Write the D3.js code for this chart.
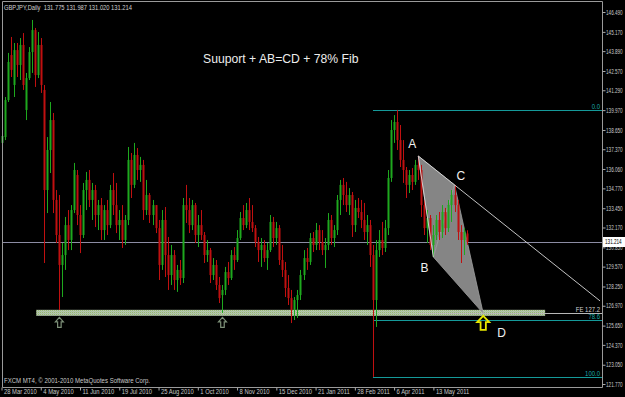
<!DOCTYPE html>
<html><head><meta charset="utf-8">
<script src="https://cdn.jsdelivr.net/npm/d3@7"></script>
<style>html,body{margin:0;padding:0;background:#000;overflow:hidden}</style>
</head><body><svg id="c" width="625" height="397"></svg>
<script>
// ---------- data ----------
const headerLabel = "GBPJPY,Daily";
const title = "Suuport + AB=CD + 78% Fib";
const footer = "FXCM MT4, \u00a9 2001-2010 MetaQuotes Software Corp.";
// [open, high, low, close]
const ohlc = [
[137.79,138.45,137.59,138.25],[138.18,140.84,137.98,140.64],[140.64,143.77,140.51,143.17],[143.63,144.83,142.17,142.64],
[141.64,144.43,140.84,143.96],[143.96,144.43,142.17,142.97],[142.97,144.76,141.97,144.30],[144.30,145.09,141.31,141.64],
[139.98,142.44,139.31,142.10],[142.10,144.16,141.97,143.83],[143.83,145.96,142.44,145.29],[145.29,145.43,141.51,142.30],
[142.30,145.16,142.10,144.30],[144.30,144.76,141.11,141.64],[141.31,141.64,129.81,134.66],[134.66,138.18,133.13,137.32],
[137.32,140.51,135.79,139.31],[139.31,139.78,133.13,134.00],[134.00,134.66,131.14,131.67],[131.67,134.33,126.69,129.68],
[129.68,131.14,127.55,130.34],[130.34,132.87,129.35,132.33],[132.33,133.33,130.67,131.34],[131.34,133.66,130.67,133.33],
[133.33,136.46,133.13,135.99],[135.66,135.99,132.33,133.00],[133.00,133.66,130.47,131.67],[131.67,135.13,131.47,134.66],
[134.66,135.86,133.33,135.33],[135.33,135.99,133.53,134.00],[134.00,135.13,132.67,134.66],[134.66,135.00,132.20,133.00],
[133.00,134.00,132.00,133.66],[133.66,134.13,131.34,132.00],[132.00,133.66,131.34,133.33],[133.33,134.00,131.67,132.33],
[132.33,135.00,132.13,134.66],[134.66,135.79,133.00,133.66],[133.66,135.13,131.80,132.33],[132.33,133.33,131.34,132.67],
[132.67,133.66,130.81,131.34],[131.34,133.00,131.01,132.67],[132.67,137.52,132.33,136.66],[136.66,137.12,134.13,135.00],
[135.00,137.79,134.79,136.99],[136.99,137.45,135.33,135.99],[135.99,136.86,135.20,136.33],[136.33,136.66,132.67,133.33],
[133.33,135.33,133.00,134.33],[134.33,134.46,132.47,133.00],[133.00,134.00,132.33,133.66],[133.66,133.66,131.80,132.13],
[132.13,132.67,128.68,129.68],[129.68,133.33,129.35,132.67],[132.67,133.53,128.88,130.34],[130.34,131.54,128.02,129.01],
[129.01,131.01,128.35,130.34],[130.34,130.67,128.02,128.68],[128.68,129.68,127.89,129.35],[129.35,130.01,128.35,128.81],
[128.81,134.13,128.48,133.66],[133.66,135.00,132.47,133.33],[133.33,134.13,131.80,132.33],[132.33,134.00,132.00,133.66],
[133.66,133.80,131.14,131.67],[131.67,133.00,130.87,132.33],[132.33,133.33,131.34,131.67],[131.67,131.87,129.81,130.34],
[130.34,131.34,129.88,130.67],[130.67,130.81,128.48,129.01],[129.01,130.14,128.68,129.68],[129.68,130.01,128.02,128.35],
[128.35,128.88,127.15,127.48],[127.68,128.35,126.49,128.02],[128.02,129.55,127.68,129.21],[129.21,129.88,128.35,128.81],
[128.81,130.67,128.68,130.34],[130.34,130.87,129.35,130.01],[130.01,132.00,129.88,131.47],[131.47,133.20,131.34,132.80],
[132.80,133.66,132.00,132.33],[132.33,133.80,132.13,133.33],[133.33,134.13,132.00,132.54],[132.54,133.66,131.87,132.13],
[132.13,132.33,130.87,131.21],[131.21,131.54,129.88,130.67],[130.67,131.47,129.55,131.01],[131.01,131.34,129.88,130.14],
[130.14,131.14,129.35,130.67],[130.67,133.00,130.54,132.54],[132.54,132.87,130.87,131.47],[131.47,132.54,131.01,132.13],
[132.13,132.33,129.68,130.01],[130.01,131.01,128.88,129.35],[129.35,129.88,127.55,128.15],[128.15,129.01,127.02,127.48],
[127.48,128.02,125.82,126.69],[126.69,127.55,126.02,127.35],[127.35,128.02,126.16,127.68],[127.68,129.35,127.35,129.01],
[129.01,130.67,128.68,130.14],[130.14,130.81,129.35,129.88],[129.88,131.80,129.68,131.47],[131.47,131.87,130.54,131.01],
[131.01,132.47,130.67,132.00],[132.00,132.33,130.67,131.21],[131.21,132.00,130.34,130.67],[130.67,131.47,129.48,131.01],
[131.01,133.13,130.67,132.67],[132.67,133.00,131.01,131.47],[131.47,132.33,130.87,132.00],[132.00,134.33,131.67,134.00],
[134.00,135.33,133.00,135.00],[135.00,135.46,133.66,134.33],[134.33,135.20,133.20,133.66],[133.66,134.79,133.00,134.33],
[134.33,134.53,131.54,132.33],[132.33,134.00,131.87,133.47],[133.47,134.13,132.80,133.20],[133.20,134.00,132.13,132.67],
[132.67,133.80,131.34,131.87],[131.87,133.00,131.01,132.33],[132.33,132.67,129.55,130.34],[130.34,131.01,122.24,127.35],
[127.35,131.34,125.56,130.67],[130.67,132.00,130.21,131.34],[131.34,132.54,130.34,130.81],[130.81,132.67,130.54,132.13],
[132.13,135.99,131.67,135.46],[135.46,139.31,135.20,138.65],[138.65,139.64,137.79,139.18],[139.18,139.98,137.32,137.98],
[137.98,138.98,136.19,136.66],[136.66,137.98,135.13,135.99],[135.99,136.19,134.13,135.00],[135.00,135.99,134.46,135.66],
[135.66,136.12,134.66,135.20],[135.20,136.66,135.00,136.33],[136.33,136.92,135.33,135.99],[135.99,136.33,132.87,133.66],
[133.66,134.00,131.67,132.13],[132.13,133.33,131.14,132.80],[132.80,133.00,130.67,131.01],[131.01,132.33,130.21,131.67],
[131.67,133.00,131.34,132.67],[132.67,133.20,131.34,131.87],[131.87,133.66,131.47,133.20],[133.20,133.47,131.67,132.13],
[132.13,134.00,131.87,133.66],[133.66,134.66,132.54,134.33],[134.33,135.00,133.20,133.66],[133.66,134.00,131.34,131.87],
[131.87,132.33,129.81,131.34],[131.34,132.13,130.34,131.87],[131.775,131.987,131.020,131.214]
];
const dateLabels = ["28 Mar 2010","4 May 2010","11 Jun 2010","19 Jul 2010","25 Aug 2010","1 Oct 2010",
  "8 Nov 2010","15 Dec 2010","21 Jan 2011","28 Feb 2011","6 Apr 2011","13 May 2011"];
const dateTickIndex = [0,13,26,39,52,65,78,91,104,117,130,143];
const yTickValues = [146.49,145.17,143.89,142.57,141.29,139.97,138.65,137.37,136.06,134.77,
  133.45,132.17,130.85,129.57,128.25,126.97,125.65,124.37,123.05,121.77];
const lastPrice = 131.214;
const supportZone = [126.30, 126.70];
const supportRange = [11.5, 180];
const fibStartIndex = 123, fibHighIndex = 131, fibLowIndex = 123;
const fibLevels = [0, 78.6, 100];
const pointIndex = {A:138, B:143, C:150};
const feRatio = 1.272, dIndex = 159.5;
const swingLowIndex = [19, 73];

(function(){
const W = 625, H = 397, pL = 2, pR = 602, pT = 1, pB = 387;
const svg = d3.select("#c");
svg.append("rect").attr("width",W).attr("height",H).attr("fill","#000");

const x = d3.scaleLinear().domain([0, ohlc.length-1]).range([1.5, 466.6]);
const y = d3.scaleLinear().domain([121.77, 146.49]).range([384, 12]);
const font = "'Liberation Sans', Arial, sans-serif";
function squeeze(sel, f){
  sel.each(function(){ const n = this.getComputedTextLength();
    d3.select(this).attr("textLength", n*f).attr("lengthAdjust","spacingAndGlyphs"); });
}

const plot = svg.append("g");
const defs = svg.append("defs");
const pat = defs.append("pattern").attr("id","sz").attr("width",2).attr("height",2).attr("patternUnits","userSpaceOnUse");
pat.append("rect").attr("width",2).attr("height",2).attr("fill","#b9cfa3");
pat.append("rect").attr("width",1).attr("height",1).attr("fill","#93b07a");
pat.append("rect").attr("x",1).attr("y",1).attr("width",1).attr("height",1).attr("fill","#a8b8b0");
plot.append("rect")
  .attr("x", x(supportRange[0])).attr("width", x(supportRange[1]) - x(supportRange[0]))
  .attr("y", y(supportZone[1])).attr("height", y(supportZone[0]) - y(supportZone[1]))
  .attr("fill","url(#sz)");

const fHigh = ohlc[fibHighIndex][1], fLow = ohlc[fibLowIndex][2];
fibLevels.forEach(l => {
  const p = fHigh - (fHigh - fLow) * l / 100;
  plot.append("line").attr("x1", x(fibStartIndex)).attr("x2", pR)
    .attr("y1", Math.round(y(p))+0.5).attr("y2", Math.round(y(p))+0.5)
    .attr("stroke","#159a9a").attr("stroke-width",1);
  plot.append("text").attr("x", pR-2).attr("y", Math.round(y(p))-1.5)
    .attr("text-anchor","end").attr("fill","#19a8a8")
    .attr("font-family",font).attr("font-size",7).text(l.toFixed(1))
    .call(squeeze, 0.85);
});

plot.append("line").attr("x1",pL).attr("x2",pR)
  .attr("y1",Math.round(y(lastPrice))+0.5).attr("y2",Math.round(y(lastPrice))+0.5)
  .attr("stroke","#8c8ca4").attr("stroke-width",1);

const A = {i:pointIndex.A, p:ohlc[pointIndex.A][1]};
const B = {i:pointIndex.B, p:ohlc[pointIndex.B][2]};
const C = {i:pointIndex.C, p:ohlc[pointIndex.C][1]};
const D = {i:dIndex, p: C.p - feRatio*(A.p - B.p)};
const pt = o => [x(o.i), y(o.p)];

plot.append("line").attr("x1", x(A.i)).attr("x2", pR)
  .attr("y1", Math.round(y(D.p))+0.5).attr("y2", Math.round(y(D.p))+0.5)
  .attr("stroke","#b8b8b8").attr("stroke-width",1);
plot.append("text").attr("x", pR-2).attr("y", Math.round(y(D.p))-1.5)
  .attr("text-anchor","end").attr("fill","#d0d0d0")
  .attr("font-family",font).attr("font-size",7).text("FE " + (feRatio*100).toFixed(1))
  .call(squeeze, 0.85);

plot.append("path").attr("d", d3.line()([pt(A),pt(B),pt(C)]) + "Z")
  .attr("fill","#858585").attr("stroke","#a0a0a0").attr("stroke-width",0.8);
plot.append("path").attr("d", d3.line()([pt(B),pt(C),pt(D)]) + "Z")
  .attr("fill","#858585").attr("stroke","#a0a0a0").attr("stroke-width",0.8);

const cg = svg.append("g");
ohlc.forEach((d,i) => {
  const [o,h,l,c] = d;
  const up = c >= o;
  const col = up ? "#1ea81e" : "#c01010";
  const cx = Math.round(x(i)) + 0.5;
  cg.append("line").attr("x1",cx).attr("x2",cx).attr("y1",y(h)).attr("y2",y(l))
    .attr("stroke", col).attr("stroke-width",1);
  const yt = Math.min(y(o),y(c)), hb = Math.max(1, Math.abs(y(o)-y(c)));
  cg.append("rect").attr("x",cx-1).attr("width",2).attr("y",yt).attr("height",hb).attr("fill",col);
});

const slope = (C.p - A.p)/(C.i - A.i);
const endI = x.invert(600);
svg.append("line").attr("x1",x(A.i)).attr("y1",y(A.p))
  .attr("x2",x(endI)).attr("y2",y(A.p + slope*(endI - A.i)))
  .attr("stroke","#d8d8d8").attr("stroke-width",0.9);
svg.append("line").attr("x1",x(A.i)).attr("y1",y(A.p)).attr("x2",x(B.i)).attr("y2",y(B.p))
  .attr("stroke","#d8d8d8").attr("stroke-width",0.9);

function arrow(cx, tipY, w, h, col, sw){
  const hw = w/2, sh = w*0.22, headH = h*0.45;
  const pts = [[cx,tipY],[cx+hw,tipY+headH],[cx+sh,tipY+headH],[cx+sh,tipY+h],
               [cx-sh,tipY+h],[cx-sh,tipY+headH],[cx-hw,tipY+headH]];
  svg.append("path").attr("d", d3.line()(pts)+"Z").attr("fill","none")
    .attr("stroke",col).attr("stroke-width",sw);
}
swingLowIndex.forEach(i => arrow(x(i)+0.5, y(supportZone[0])+1.5, 8, 10, "#7d9078", 1.2));
arrow(x(D.i), y(D.p)+2.5, 12, 14, "#e8e800", 1.8);

const lab = (t, px, py) => svg.append("text").attr("x",px).attr("y",py).attr("fill","#f0f0f0")
  .attr("font-family",font).attr("font-size",12).text(t);
lab("A", x(A.i)-10, y(A.p)-8);
lab("B", x(B.i)-13, y(B.p)+15);
lab("C", x(C.i)+2, y(C.p)-5);
lab("D", x(D.i)+14, y(D.p)+24);

svg.append("text").attr("x",203).attr("y",63).attr("fill","#ececec")
  .attr("font-family",font).attr("font-size",12.2).text(title);

svg.append("path").attr("d",`M${pL+0.5},${pB+0.5}V${pT+0.5}H${pR+0.5}V${pB+0.5}H${pL+0.5}`)
  .attr("fill","none").attr("stroke","#9a9a9a").attr("stroke-width",1);

const ya = svg.append("g").attr("transform",`translate(${pR+0.5},0)`)
  .call(d3.axisRight(y).tickValues(yTickValues).tickFormat(d3.format(".3f")).tickSize(3).tickPadding(1));
ya.select(".domain").remove();
ya.selectAll("line").attr("stroke","#aaaaaa");
ya.selectAll("text").attr("fill","#c8c8c8").attr("font-family",font).attr("font-size",7)
  .attr("x",0).attr("transform","translate(3.5,0) scale(0.66,1)");

const xa = svg.append("g").attr("transform",`translate(0,${pB+0.5})`)
  .call(d3.axisBottom(x).tickValues(dateTickIndex).tickFormat((d,i)=>dateLabels[i]).tickSize(3).tickPadding(0));
xa.select(".domain").remove();
xa.selectAll("line").attr("stroke","#aaaaaa");
xa.selectAll("text").attr("fill","#c8c8c8").attr("font-family",font).attr("font-size",6.8)
  .attr("text-anchor","start").attr("x",0).attr("y",1.2)
  .attr("transform","translate(2,0) scale(0.86,1)");

const ly = y(lastPrice);
svg.append("rect").attr("x",pR+1).attr("y",Math.round(ly)-5).attr("width",22).attr("height",10).attr("fill","#ffffff");
svg.append("text").attr("x",0).attr("y",0).attr("dy","0.35em").attr("fill","#000")
  .attr("transform",`translate(${pR+3},${ly}) scale(0.66,1)`)
  .attr("font-family",font).attr("font-size",7).text(d3.format(".3f")(lastPrice));

const last = ohlc[ohlc.length-1];
svg.append("text").attr("x",4).attr("y",10).attr("fill","#d0d0d0").attr("font-family",font)
  .attr("font-size",7.3).attr("xml:space","preserve")
  .text(headerLabel + "  " + last.map(d3.format(".3f")).join(" "))
  .attr("textLength",128).attr("lengthAdjust","spacingAndGlyphs");
svg.append("text").attr("x",4).attr("y",383).attr("fill","#c8c8c8").attr("font-family",font)
  .attr("font-size",7).text(footer)
  .attr("textLength",146).attr("lengthAdjust","spacingAndGlyphs");
})();
</script></body></html>
